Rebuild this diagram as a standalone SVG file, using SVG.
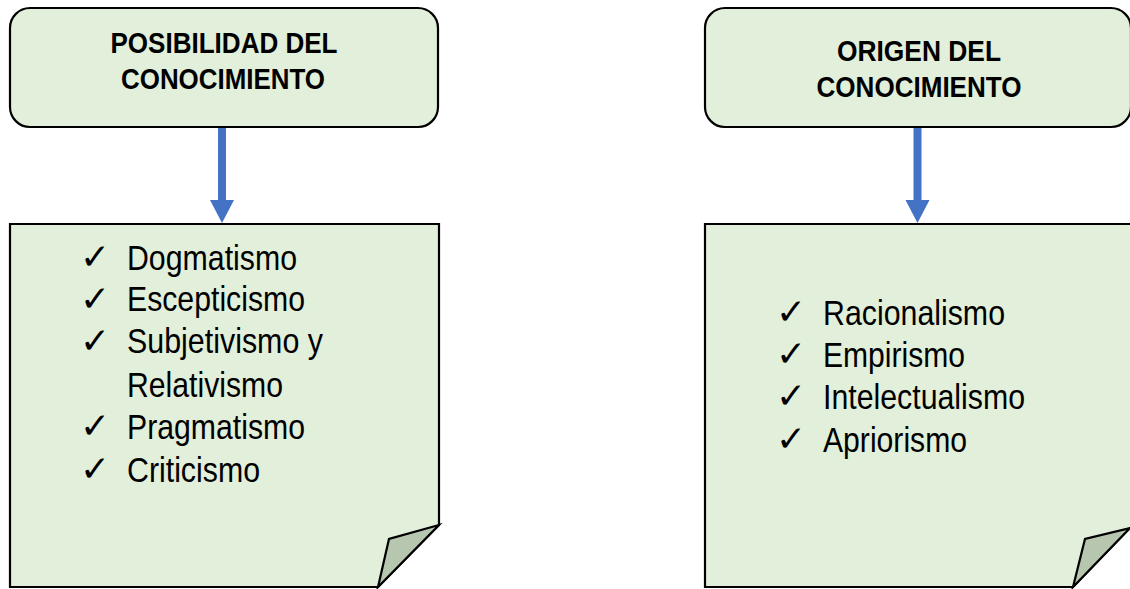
<svg xmlns="http://www.w3.org/2000/svg" width="1130" height="589" viewBox="0 0 1130 589">
<style>
.hdr{fill:#E2EFDA;stroke:#000;stroke-width:2.2}
.page{fill:#E2EFDA;stroke:#000;stroke-width:2.2;stroke-linejoin:miter}
.fold{fill:#B7C6AF;stroke:#000;stroke-width:2.2;stroke-linejoin:miter}
.ht{font-family:"Liberation Sans",Arial,sans-serif;font-weight:bold;font-size:29px;fill:#000;text-anchor:middle}
.it{font-family:"Liberation Sans",Arial,sans-serif;font-size:35px;fill:#000}
.ck{font-family:"DejaVu Sans",sans-serif;font-size:36px;fill:#000}
.arr{fill:#4472C4}
</style>
<rect width="1130" height="589" fill="#fff"/>
<g id="node-posibilidad">
<rect class="hdr" x="10" y="8" width="428" height="119" rx="20"/>
<text class="ht" x="224" y="53" textLength="227" lengthAdjust="spacingAndGlyphs">POSIBILIDAD DEL</text>
<text class="ht" x="223" y="89" textLength="204" lengthAdjust="spacingAndGlyphs">CONOCIMIENTO</text>
</g>
<g id="node-origen">
<rect class="hdr" x="705" y="8" width="426" height="119" rx="20"/>
<text class="ht" x="919" y="61" textLength="164" lengthAdjust="spacingAndGlyphs">ORIGEN DEL</text>
<text class="ht" x="919" y="97" textLength="205" lengthAdjust="spacingAndGlyphs">CONOCIMIENTO</text>
</g>
<g id="node-lista-posibilidad">
<path class="page" d="M10,224 H439 V525 L378,587 H10 Z"/>
<path class="fold" d="M439,525 L389,539 L378,587 Z"/>
<text class="ck" x="80" y="269">✓</text>
<text class="ck" x="80" y="311">✓</text>
<text class="ck" x="80" y="353">✓</text>
<text class="ck" x="80" y="438">✓</text>
<text class="ck" x="80" y="481">✓</text>
<text class="it" x="127" y="270" textLength="170" lengthAdjust="spacingAndGlyphs">Dogmatismo</text>
<text class="it" x="127" y="311" textLength="178" lengthAdjust="spacingAndGlyphs">Escepticismo</text>
<text class="it" x="127" y="353" textLength="196" lengthAdjust="spacingAndGlyphs">Subjetivismo y</text>
<text class="it" x="127" y="397" textLength="156" lengthAdjust="spacingAndGlyphs">Relativismo</text>
<text class="it" x="127" y="439" textLength="178" lengthAdjust="spacingAndGlyphs">Pragmatismo</text>
<text class="it" x="127" y="482" textLength="133" lengthAdjust="spacingAndGlyphs">Criticismo</text>
</g>
<g id="node-lista-origen">
<path class="page" d="M705,224 H1145 V528 H1130 L1073,587 H705 Z"/>
<path class="fold" d="M1130,528 L1085,539 L1073,587 Z"/>
<text class="ck" x="776" y="324">✓</text>
<text class="ck" x="776" y="366">✓</text>
<text class="ck" x="776" y="408">✓</text>
<text class="ck" x="776" y="451">✓</text>
<text class="it" x="823" y="325" textLength="182" lengthAdjust="spacingAndGlyphs">Racionalismo</text>
<text class="it" x="823" y="367" textLength="142" lengthAdjust="spacingAndGlyphs">Empirismo</text>
<text class="it" x="823" y="409" textLength="202" lengthAdjust="spacingAndGlyphs">Intelectualismo</text>
<text class="it" x="823" y="452" textLength="144" lengthAdjust="spacingAndGlyphs">Apriorismo</text>
</g>
<g id="connectors">
<path class="arr" d="M218,128 H226 V200 H234 L222,223 L210,200 H218 Z"/>
<path class="arr" d="M913.5,128 H921.5 V200 H929.5 L917.5,223 L905.5,200 H913.5 Z"/>
</g>
</svg>
